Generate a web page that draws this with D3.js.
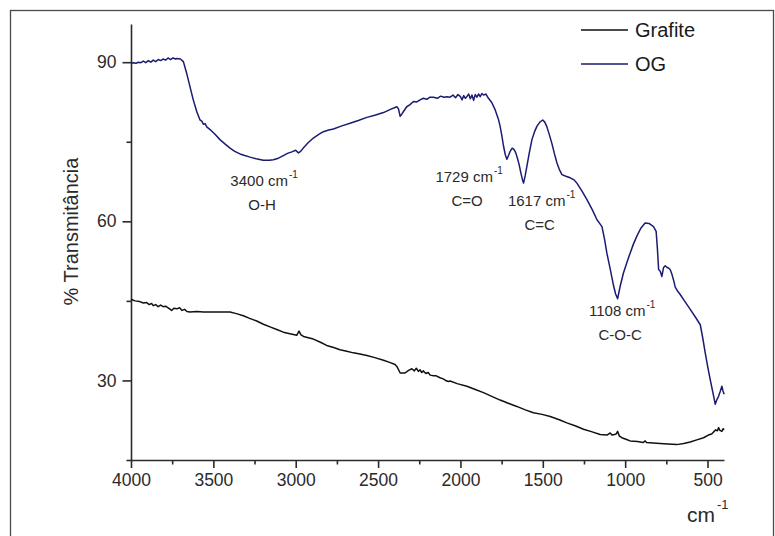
<!DOCTYPE html>
<html>
<head>
<meta charset="utf-8">
<script src="https://cdn.jsdelivr.net/npm/d3@7"></script>
<style>
  html, body { margin: 0; padding: 0; background: #fff; }
  svg { display: block; font-family: "Liberation Sans", Arial, sans-serif; }
</style>
</head>
<body>
<svg id="chart" width="775" height="536"></svg>
<script>
// FTIR spectra: [wavenumber (cm-1), % transmittance]
const grafitePoints = [
  [4000, 45.3], [3975, 45.0], [3950, 44.9], [3925, 44.6], [3905, 44.7], [3890, 44.3], [3875, 44.5],
  [3864, 44.1], [3850, 44.3], [3835, 43.9], [3820, 44.2], [3804, 43.9], [3790, 44.0], [3770, 43.6],
  [3753, 43.2], [3740, 43.6], [3722, 43.5], [3705, 43.7], [3690, 43.2], [3675, 43.4], [3660, 43.0],
  [3642, 42.9], [3600, 43.0], [3560, 42.9], [3520, 42.9], [3460, 42.9], [3399, 42.9], [3360, 42.6],
  [3318, 42.2], [3280, 41.7], [3237, 41.2], [3196, 40.6], [3156, 40.1], [3115, 39.6], [3075, 39.1],
  [3035, 38.8], [2994, 38.5], [2980, 39.3], [2968, 38.6], [2953, 38.3], [2893, 37.8], [2850, 37.2],
  [2812, 36.6], [2770, 36.2], [2731, 35.8], [2690, 35.5], [2650, 35.2], [2610, 35.0], [2568, 34.7],
  [2520, 34.3], [2467, 33.8], [2430, 33.4], [2397, 33.0], [2385, 32.6], [2366, 31.4], [2336, 31.4],
  [2315, 31.9], [2295, 32.2], [2280, 31.8], [2268, 32.3], [2255, 31.7], [2245, 32.0], [2235, 31.5],
  [2225, 31.8], [2210, 31.3], [2196, 31.5], [2184, 31.0], [2164, 30.9], [2150, 30.9], [2124, 30.5],
  [2105, 30.3], [2090, 30.0], [2073, 29.8], [2063, 29.9], [2020, 29.4], [1961, 28.9], [1910, 28.3],
  [1860, 27.7], [1810, 27.0], [1759, 26.3], [1710, 25.7], [1658, 25.1], [1610, 24.5], [1557, 23.9],
  [1505, 23.6], [1455, 23.2], [1400, 22.6], [1354, 22.0], [1300, 21.4], [1253, 20.8], [1200, 20.3],
  [1152, 19.8], [1110, 19.7], [1091, 20.1], [1080, 19.7], [1065, 19.8], [1055, 19.9], [1046, 20.4],
  [1035, 19.5], [1020, 19.2], [995, 18.9], [970, 18.6], [925, 18.5], [890, 18.3], [879, 18.6],
  [870, 18.3], [830, 18.2], [788, 18.1], [740, 18.0], [686, 17.9], [645, 18.1], [605, 18.4],
  [565, 18.8], [524, 19.2], [495, 19.7], [475, 19.9], [463, 20.3], [450, 20.7], [440, 20.5],
  [433, 21.1], [425, 20.6], [413, 20.4], [405, 20.9], [399, 20.7]
];

const ogPoints = [
  [4000, 89.8], [3985, 89.9], [3970, 89.8], [3955, 90.0], [3940, 89.9], [3925, 90.2], [3910, 89.9],
  [3895, 90.3], [3880, 90.0], [3865, 90.4], [3850, 90.1], [3835, 90.5], [3820, 90.3], [3805, 90.6],
  [3790, 90.4], [3775, 90.8], [3760, 90.5], [3745, 90.8], [3730, 90.6], [3722, 90.7], [3700, 90.6],
  [3682, 90.1], [3672, 89.0], [3662, 87.9], [3642, 85.4], [3622, 82.9], [3601, 80.7], [3581, 79.1],
  [3570, 78.9], [3561, 78.3], [3550, 78.4], [3540, 77.8], [3520, 77.3], [3490, 76.4], [3460, 75.4],
  [3430, 74.6], [3399, 73.8], [3370, 73.2], [3338, 72.7], [3310, 72.4], [3277, 72.1], [3240, 71.8],
  [3197, 71.5], [3160, 71.5], [3136, 71.6], [3105, 71.9], [3075, 72.4], [3050, 72.8], [3024, 73.1],
  [3000, 73.4], [2984, 72.9], [2970, 73.2], [2954, 73.8], [2925, 74.8], [2893, 75.7], [2860, 76.4],
  [2832, 76.9], [2800, 77.2], [2771, 77.4], [2720, 78.0], [2670, 78.5], [2620, 79.0], [2568, 79.6],
  [2520, 80.0], [2467, 80.5], [2425, 81.1], [2386, 81.6], [2376, 81.2], [2366, 79.8], [2356, 80.2],
  [2346, 80.7], [2326, 81.6], [2306, 82.0], [2285, 82.6], [2265, 82.5], [2245, 82.9], [2225, 83.2],
  [2204, 83.0], [2185, 83.4], [2164, 83.4], [2140, 83.2], [2120, 83.6], [2100, 83.4], [2082, 83.5],
  [2063, 83.4], [2045, 83.8], [2030, 83.3], [2015, 83.9], [2000, 83.5], [1990, 82.9], [1980, 83.7],
  [1970, 83.2], [1961, 83.5], [1950, 84.0], [1940, 83.1], [1930, 83.8], [1920, 82.8], [1910, 83.9],
  [1900, 83.4], [1890, 84.0], [1880, 83.5], [1870, 84.1], [1860, 83.8], [1845, 84.0], [1830, 83.2],
  [1810, 82.4], [1789, 81.0], [1770, 79.3], [1759, 77.9], [1748, 76.0], [1738, 74.1], [1728, 72.6],
  [1718, 71.7], [1708, 72.4], [1698, 73.2], [1686, 73.8], [1674, 73.5], [1664, 72.9], [1654, 71.9],
  [1643, 70.6], [1633, 69.1], [1624, 67.9], [1617, 67.2], [1607, 68.6], [1597, 70.3], [1582, 72.9],
  [1566, 75.4], [1550, 76.9], [1536, 77.9], [1518, 78.7], [1500, 79.1], [1488, 78.7], [1475, 77.8],
  [1460, 76.3], [1445, 74.7], [1430, 72.8], [1414, 71.0], [1400, 69.8], [1384, 68.8], [1360, 68.5],
  [1334, 68.2], [1310, 67.8], [1293, 67.2], [1262, 65.7], [1232, 64.1], [1200, 62.2], [1171, 60.3],
  [1155, 59.6], [1141, 59.0], [1125, 56.6], [1111, 54.0], [1090, 50.9], [1070, 47.8], [1058, 46.3],
  [1046, 45.4], [1030, 47.8], [1010, 50.3], [990, 52.2], [970, 54.0], [950, 55.7], [929, 57.2],
  [905, 58.7], [879, 59.7], [855, 59.6], [828, 59.0], [812, 58.1], [804, 54.7], [797, 50.9],
  [787, 50.6], [777, 49.6], [767, 51.3], [757, 51.6], [745, 51.3], [737, 51.2], [727, 50.9],
  [716, 50.0], [706, 48.9], [696, 47.6], [681, 46.8], [666, 46.2], [640, 45.0], [605, 43.4],
  [575, 42.0], [544, 40.5], [529, 38.0], [514, 35.2], [499, 32.6], [484, 30.2], [468, 27.8],
  [453, 25.5], [443, 26.4], [433, 27.0], [423, 27.9], [413, 28.9], [406, 28.0], [399, 27.4]
];

const xMajorTicks = [4000, 3500, 3000, 2500, 2000, 1500, 1000, 500];
const xMinorTicks = [3750, 3250, 2750, 2250, 1750, 1250, 750];
const yMajorTicks = [90, 60, 30];
const yMinorTicks = [75, 45, 15];

const seriesNames = ["Grafite", "OG"];
const seriesColors = ["#111111", "#1b1b72"];

const bandLabels = [
  { wn: 3400, group: "O-H" },
  { wn: 1729, group: "C=O" },
  { wn: 1617, group: "C=C" },
  { wn: 1108, group: "C-O-C" }
];
// label anchor positions (wavenumber, transmittance) for each band annotation
const bandLabelPos = [
  [3192, 66.6],
  [1947, 67.5],
  [1507, 62.8],
  [1018, 42.1]
];

const svg = d3.select("#chart");
const axisColor = "#2b2b2b";
const textColor = "#2a2a2a";

// outer frame
svg.append("rect")
  .attr("x", 10.5).attr("y", 10.5)
  .attr("width", 763).attr("height", 560)
  .attr("fill", "none").attr("stroke", "#4a4a4a").attr("stroke-width", 1.3);

const x = d3.scaleLinear().domain([4000, 400]).range([131, 724]);
const y = d3.scaleLinear().domain([15, 97.2]).range([460, 24]);
const fmt = d3.format("d");

// x axis
svg.append("g").attr("transform", "translate(0,460)")
  .call(d3.axisBottom(x).tickValues(xMajorTicks).tickFormat(fmt).tickSize(8).tickPadding(6).tickSizeOuter(0));
svg.append("g").attr("transform", "translate(0,460)")
  .call(d3.axisBottom(x).tickValues(xMinorTicks).tickSize(4.5).tickFormat("").tickSizeOuter(0))
  .select(".domain").remove();

// y axis
svg.append("g").attr("transform", "translate(131,0)")
  .call(d3.axisLeft(y).tickValues(yMajorTicks).tickFormat(fmt).tickSize(8.5).tickPadding(6).tickSizeOuter(0));
svg.append("g").attr("transform", "translate(131,0)")
  .call(d3.axisLeft(y).tickValues(yMinorTicks).tickSize(4.5).tickFormat("").tickSizeOuter(0))
  .select(".domain").remove();

svg.selectAll(".domain, .tick line")
  .attr("stroke", axisColor).attr("stroke-width", 1.6);
svg.selectAll(".tick text")
  .attr("fill", textColor)
  .style("font-size", "17.5px")
  .style("font-family", "'Liberation Sans', Arial, sans-serif");

// axis titles
svg.append("text")
  .attr("transform", "translate(78,231.5) rotate(-90)")
  .attr("text-anchor", "middle")
  .attr("fill", textColor)
  .style("font-size", "20px")
  .text("% Transmitância");

const unit = svg.append("text")
  .attr("x", 687).attr("y", 522)
  .attr("fill", textColor)
  .style("font-size", "21px");
unit.append("tspan").text("cm");
unit.append("tspan").attr("dx", 2).attr("dy", -13).style("font-size", "13px").text("-1");

// spectra
const line = d3.line().x(d => x(d[0])).y(d => y(d[1]));
[grafitePoints, ogPoints].forEach((pts, i) => {
  svg.append("path")
    .datum(pts)
    .attr("d", line)
    .attr("fill", "none")
    .attr("stroke", seriesColors[i])
    .attr("stroke-width", 1.5)
    .attr("stroke-linejoin", "round");
});

// band annotations
bandLabels.forEach((b, i) => {
  const [wx, wy] = bandLabelPos[i];
  const cx = x(wx), cy = y(wy);
  const t = svg.append("text")
    .attr("x", cx).attr("y", cy)
    .attr("text-anchor", "middle")
    .attr("fill", textColor)
    .style("font-size", "15px");
  t.append("tspan").text(b.wn + " cm");
  t.append("tspan").attr("dx", 1).attr("dy", -8).style("font-size", "10px").text("-1");
  svg.append("text")
    .attr("x", cx - 2).attr("y", cy + 24)
    .attr("text-anchor", "middle")
    .attr("fill", textColor)
    .style("font-size", "15px")
    .text(b.group);
});

// legend
const legend = svg.append("g");
seriesNames.forEach((name, i) => {
  const ly = 30 + i * 34;
  legend.append("line")
    .attr("x1", 581).attr("x2", 628)
    .attr("y1", ly).attr("y2", ly)
    .attr("stroke", seriesColors[i]).attr("stroke-width", 1.5);
  legend.append("text")
    .attr("x", 635).attr("y", ly + 7)
    .attr("fill", "#1a1a1a")
    .style("font-size", "20px")
    .text(name);
});
</script>
</body>
</html>
